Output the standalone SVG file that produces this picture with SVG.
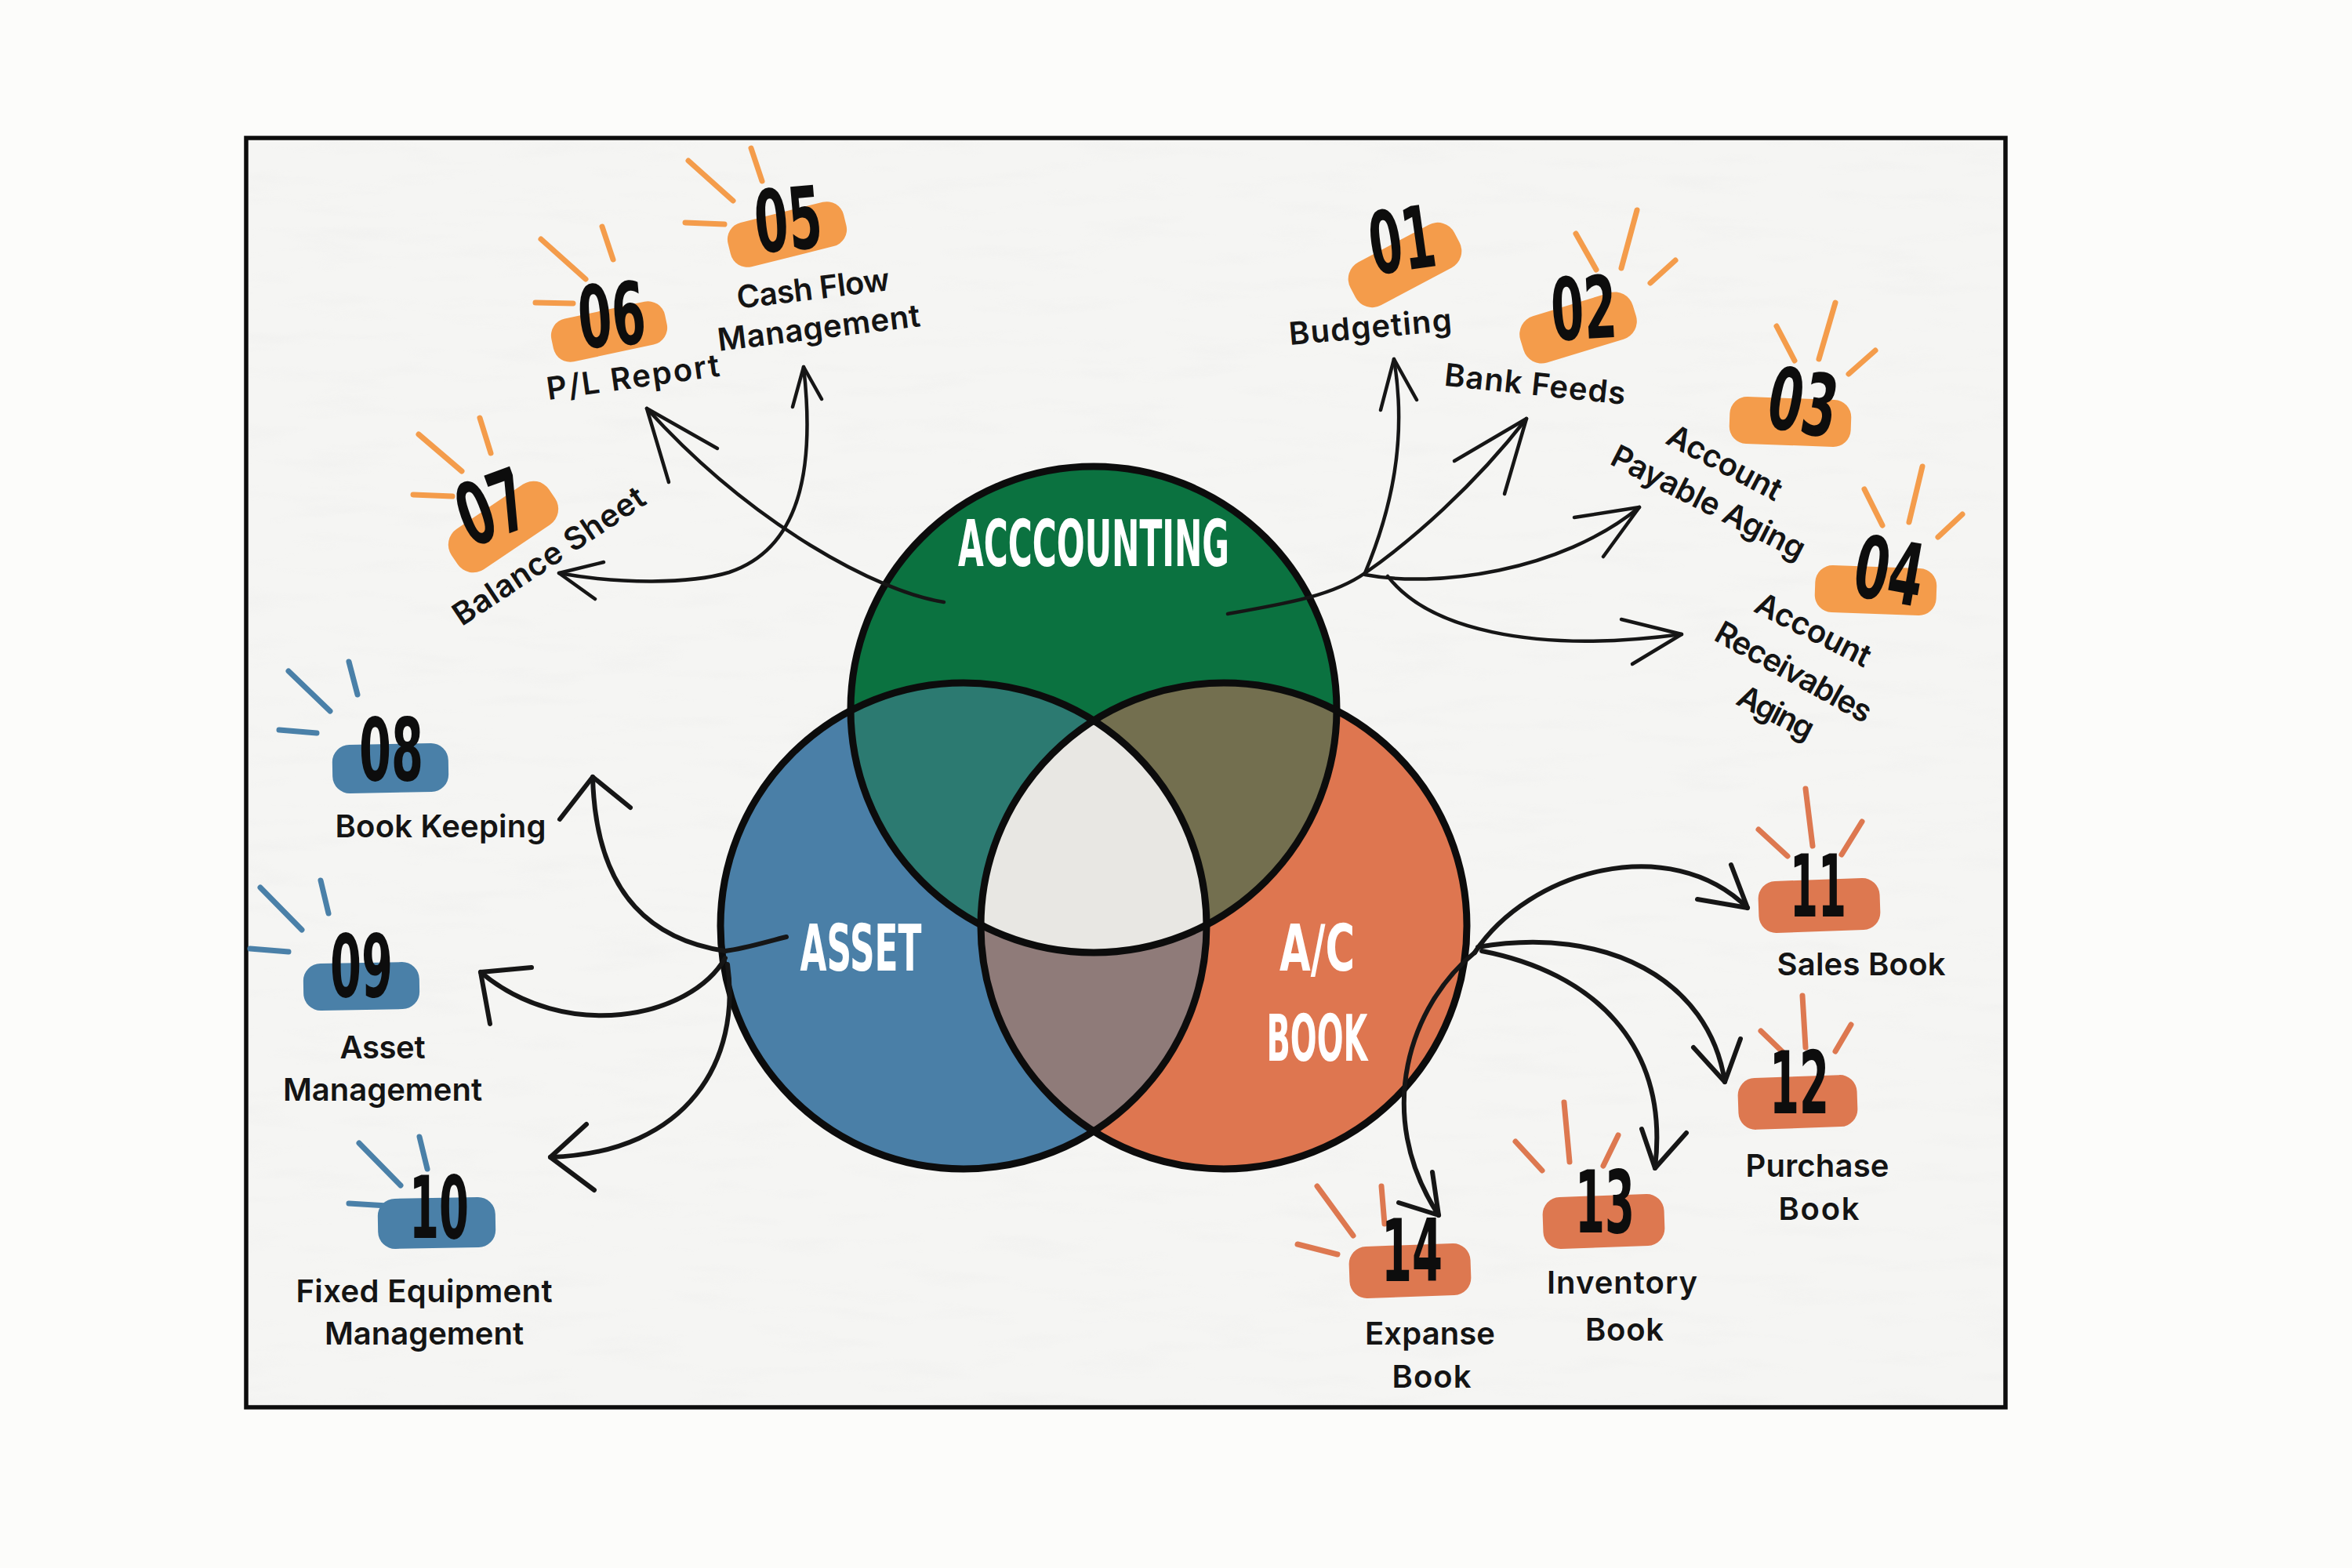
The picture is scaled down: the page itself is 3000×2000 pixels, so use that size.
<svg xmlns="http://www.w3.org/2000/svg" width="3000" height="2000" viewBox="0 0 3000 2000">
<style>
.lbl{font-family:Inter,"Open Sans",Lato,sans-serif;font-weight:600;font-size:40px;fill:#141414;text-anchor:middle}
.num{font-family:"Liberation Sans Narrow","DejaVu Sans Condensed",Roboto,sans-serif;font-weight:700;font-size:110px;fill:#0d0d0d;text-anchor:middle}
.big{font-family:"Liberation Sans Narrow","DejaVu Sans Condensed",Roboto,sans-serif;font-weight:700;font-size:82px;fill:#ffffff;text-anchor:middle}
.ray{stroke-width:7;stroke-linecap:round;fill:none}
.o .ray{stroke:#f49c4b}.o .blob{fill:#f49c4b}
.b .ray{stroke:#4a80a8}.b .blob{fill:#4a80a8}
.r .ray{stroke:#dd7850}.r .blob{fill:#dd7850}
.con{fill:none;stroke:#161616;stroke-width:6;stroke-linecap:round;stroke-linejoin:round}
.thin{stroke-width:4.5}
.ring{fill:none;stroke:#0c0c0c;stroke-width:9}
</style>
<defs>
<clipPath id="cG"><circle cx="1395" cy="905" r="310"/></clipPath>
<clipPath id="cB"><circle cx="1229" cy="1181" r="310"/></clipPath>
<clipPath id="cO"><circle cx="1561" cy="1181" r="310"/></clipPath>
<filter id="paper" x="0" y="0" width="100%" height="100%">
<feTurbulence type="fractalNoise" baseFrequency="0.008 0.045" numOctaves="3" seed="7"/>
<feColorMatrix values="0 0 0 0 0.86  0 0 0 0 0.86  0 0 0 0 0.85  2.6 0 0 0 -1.35"/>
</filter>
</defs>
<rect x="0" y="0" width="3000" height="2000" fill="#fcfcfa"/>
<rect x="314" y="176" width="2244" height="1619" fill="#f5f5f3"/>
<rect x="314" y="176" width="2244" height="1619" filter="url(#paper)" opacity="0.45"/>
<rect id="frame" x="314" y="176" width="2244" height="1619" fill="none" stroke="#0d0d0d" stroke-width="5.5"/>

<g id="venn">
<circle cx="1395" cy="905" r="310" fill="#0b7240"/>
<circle cx="1229" cy="1181" r="310" fill="#4a7fa7"/>
<circle cx="1561" cy="1181" r="310" fill="#de7650"/>
<g clip-path="url(#cG)"><circle cx="1229" cy="1181" r="310" fill="#2c7a71"/></g>
<g clip-path="url(#cG)"><circle cx="1561" cy="1181" r="310" fill="#736f4f"/></g>
<g clip-path="url(#cB)"><circle cx="1561" cy="1181" r="310" fill="#8f7b79"/></g>
<g clip-path="url(#cG)"><g clip-path="url(#cB)"><circle cx="1561" cy="1181" r="310" fill="#e8e7e3"/></g></g>
<circle class="ring" cx="1395" cy="905" r="310"/>
<circle class="ring" cx="1229" cy="1181" r="310"/>
<circle class="ring" cx="1561" cy="1181" r="310"/>
</g>
<g id="node-accounting"><text class="big" x="1395" y="722" textLength="346" lengthAdjust="spacingAndGlyphs">ACCCOUNTING</text></g>
<g id="node-asset"><text class="big" x="1098" y="1238" textLength="155" lengthAdjust="spacingAndGlyphs">ASSET</text></g>
<g id="node-acbook"><text class="big" x="1680" y="1238" textLength="96" lengthAdjust="spacingAndGlyphs">A/C</text><text class="big" x="1680" y="1353" textLength="129" lengthAdjust="spacingAndGlyphs">BOOK</text></g>

<g id="connectors">
<path class="con thin" d="M1204,768 C1120,755 960,670 825,521"/>
<polyline class="con thin" points="915,572 825,521 853,615"/>
<path class="con thin" d="M1025,468 C1040,600 1020,700 930,730 C880,745 790,745 713,731"/>
<polyline class="con thin" points="1011,519 1025,468 1048,509"/>
<polyline class="con thin" points="770,717 713,731 759,764"/>
<path class="con thin" d="M1566,783 C1640,770 1700,760 1741,731"/>
<path class="con thin" d="M1741,731 C1775,650 1795,560 1778,458"/>
<polyline class="con thin" points="1761,523 1778,458 1807,510"/>
<path class="con thin" d="M1741,731 C1800,690 1880,620 1947,534"/>
<polyline class="con thin" points="1855,588 1947,534 1919,630"/>
<path class="con thin" d="M1741,733 C1830,750 1990,730 2091,647"/>
<polyline class="con thin" points="2008,660 2091,647 2045,710"/>
<path class="con thin" d="M1770,735 C1820,800 1950,835 2145,809"/>
<polyline class="con thin" points="2068,790 2145,809 2082,847"/>
<path class="con" d="M1003,1195 C975,1202 950,1210 925,1213"/>
<path class="con" d="M925,1213 C840,1200 760,1150 756,991"/>
<polyline class="con" points="714,1045 756,991 804,1030"/>
<path class="con" d="M925,1222 C880,1300 720,1330 613,1240"/>
<polyline class="con" points="678,1234 613,1240 625,1306"/>
<path class="con" d="M928,1230 C945,1350 880,1470 702,1476"/>
<polyline class="con" points="748,1434 702,1476 758,1518"/>
<path class="con" d="M1881,1215 C1950,1110 2130,1060 2229,1158"/>
<polyline class="con" points="2165,1147 2229,1158 2208,1103"/>
<path class="con" d="M1885,1208 C2050,1180 2180,1250 2200,1380"/>
<polyline class="con" points="2160,1336 2200,1380 2220,1325"/>
<path class="con" d="M1890,1213 C2030,1240 2130,1330 2111,1490"/>
<polyline class="con" points="2094,1440 2111,1490 2151,1445"/>
<path class="con" d="M1881,1215 C1800,1280 1750,1420 1835,1550"/>
<polyline class="con" points="1784,1534 1835,1550 1827,1495"/>
</g>

<g id="node-01" class="o">
<rect class="blob" x="-75" y="-31" width="150" height="62" rx="24" transform="translate(1792,338) rotate(-28)"/>
<text class="num" x="1788" y="345" textLength="84" lengthAdjust="spacingAndGlyphs" transform="rotate(-8 1788 305)">01</text>
<text class="lbl" x="1748" y="431" textLength="208" transform="rotate(-5 1748 420)">Budgeting</text>
</g>
<g id="node-02" class="o">
<rect class="blob" x="-75" y="-31" width="150" height="62" rx="24" transform="translate(2013,418) rotate(-17)"/>
<line class="ray" x1="2010" y1="298" x2="2036" y2="344"/><line class="ray" x1="2088" y1="268" x2="2068" y2="342"/><line class="ray" x1="2137" y1="332" x2="2105" y2="361"/>
<text class="num" x="2020" y="432" textLength="84" lengthAdjust="spacingAndGlyphs" transform="rotate(-3 2020 392)">02</text>
<text class="lbl" x="1958" y="504" textLength="232" transform="rotate(6 1958 490)">Bank Feeds</text>
</g>
<g id="node-03" class="o">
<rect class="blob" x="-77" y="-30" width="155" height="60" rx="22" transform="translate(2283,538) rotate(2)"/>
<line class="ray" x1="2266" y1="416" x2="2289" y2="460"/><line class="ray" x1="2341" y1="386" x2="2320" y2="458"/><line class="ray" x1="2392" y1="447" x2="2358" y2="477"/>
<text class="num" x="2300" y="552" textLength="88" lengthAdjust="spacingAndGlyphs" transform="rotate(10 2300 512)">03</text>
<text class="lbl" x="2200" y="604" textLength="160" transform="rotate(28 2200 590)">Account</text>
<text class="lbl" x="2177" y="654" textLength="272" transform="rotate(27 2177 645)">Payable Aging</text>
</g>
<g id="node-04" class="o">
<rect class="blob" x="-77" y="-30" width="155" height="60" rx="22" transform="translate(2392,753) rotate(2)"/>
<line class="ray" x1="2378" y1="624" x2="2401" y2="670"/><line class="ray" x1="2452" y1="595" x2="2435" y2="666"/><line class="ray" x1="2503" y1="656" x2="2472" y2="685"/>
<text class="num" x="2410" y="767" textLength="88" lengthAdjust="spacingAndGlyphs" transform="rotate(10 2410 727)">04</text>
<text class="lbl" x="2313" y="817" textLength="160" transform="rotate(27 2313 803)">Account</text>
<text class="lbl" x="2288" y="871" textLength="222" transform="rotate(29 2288 857)">Receivables</text>
<text class="lbl" x="2263" y="922" textLength="104" transform="rotate(27 2263 913)">Aging</text>
</g>
<g id="node-05" class="o">
<rect class="blob" x="-76" y="-29" width="152" height="58" rx="22" transform="translate(1004,299) rotate(-14)"/>
<line class="ray" x1="878" y1="205" x2="935" y2="256"/><line class="ray" x1="958" y1="189" x2="972" y2="231"/><line class="ray" x1="874" y1="284" x2="924" y2="286"/>
<text class="num" x="1005" y="319" textLength="86" lengthAdjust="spacingAndGlyphs" transform="rotate(-5 1005 279)">05</text>
<text class="lbl" x="1037" y="382" textLength="196" transform="rotate(-7 1037 368)">Cash Flow</text>
<text class="lbl" x="1045" y="432" textLength="260" transform="rotate(-7 1045 423)">Management</text>
</g>
<g id="node-06" class="o">
<rect class="blob" x="-74" y="-28" width="148" height="56" rx="22" transform="translate(777,423) rotate(-12)"/>
<line class="ray" x1="690" y1="305" x2="747" y2="356"/><line class="ray" x1="768" y1="289" x2="782" y2="331"/><line class="ray" x1="683" y1="386" x2="731" y2="387"/>
<text class="num" x="780" y="441" textLength="86" lengthAdjust="spacingAndGlyphs" transform="rotate(-5 780 401)">06</text>
<text class="lbl" x="808" y="495" textLength="222" transform="rotate(-8 808 486)">P/L Report</text>
</g>
<g id="node-07" class="o">
<rect class="blob" x="-75" y="-31" width="150" height="62" rx="24" transform="translate(642,672) rotate(-34)"/>
<line class="ray" x1="534" y1="554" x2="589" y2="601"/><line class="ray" x1="612" y1="533" x2="626" y2="578"/><line class="ray" x1="527" y1="631" x2="577" y2="633"/>
<text class="num" x="627" y="686" textLength="88" lengthAdjust="spacingAndGlyphs" transform="rotate(-20 627 646)">07</text>
<text class="lbl" x="700" y="723" textLength="285" transform="rotate(-33.6 700 709)">Balance Sheet</text>
</g>

<g id="node-08" class="b">
<rect class="blob" x="-74" y="-31" width="148" height="62" rx="22" transform="translate(498,980) rotate(-1)"/>
<line class="ray" x1="368" y1="856" x2="421" y2="907"/><line class="ray" x1="445" y1="844" x2="456" y2="886"/><line class="ray" x1="356" y1="931" x2="404" y2="935"/>
<text class="num" x="499" y="995" textLength="82" lengthAdjust="spacingAndGlyphs">08</text>
<text class="lbl" x="562" y="1068" textLength="269">Book Keeping</text>
</g>
<g id="node-09" class="b">
<rect class="blob" x="-74" y="-30" width="148" height="60" rx="22" transform="translate(461,1258) rotate(-1)"/>
<line class="ray" x1="332" y1="1132" x2="385" y2="1186"/><line class="ray" x1="409" y1="1123" x2="419" y2="1165"/><line class="ray" x1="319" y1="1210" x2="368" y2="1214"/>
<text class="num" x="461" y="1271" textLength="80" lengthAdjust="spacingAndGlyphs">09</text>
<text class="lbl" x="488" y="1350" textLength="109">Asset</text>
<text class="lbl" x="488" y="1404" textLength="254">Management</text>
</g>
<g id="node-10" class="b">
<rect class="blob" x="-75" y="-32" width="150" height="64" rx="22" transform="translate(557,1560) rotate(-1)"/>
<line class="ray" x1="458" y1="1458" x2="511" y2="1512"/><line class="ray" x1="535" y1="1450" x2="545" y2="1491"/><line class="ray" x1="445" y1="1535" x2="494" y2="1538"/>
<text class="num" x="560" y="1579" textLength="76" lengthAdjust="spacingAndGlyphs">10</text>
<text class="lbl" x="541" y="1661" textLength="327">Fixed Equipment</text>
<text class="lbl" x="541" y="1715" textLength="254">Management</text>
</g>

<g id="node-11" class="r">
<rect class="blob" x="-77" y="-33" width="155" height="66" rx="22" transform="translate(2320,1155) rotate(-2)"/>
<line class="ray" x1="2243" y1="1058" x2="2280" y2="1092"/><line class="ray" x1="2303" y1="1006" x2="2312" y2="1079"/><line class="ray" x1="2375" y1="1048" x2="2349" y2="1090"/>
<text class="num" x="2319" y="1169" textLength="72" lengthAdjust="spacingAndGlyphs">11</text>
<text class="lbl" x="2374" y="1244" textLength="215">Sales Book</text>
</g>
<g id="node-12" class="r">
<rect class="blob" x="-76" y="-33" width="152" height="66" rx="22" transform="translate(2293,1406) rotate(-2)"/>
<line class="ray" x1="2246" y1="1315" x2="2275" y2="1343"/><line class="ray" x1="2299" y1="1270" x2="2303" y2="1336"/><line class="ray" x1="2361" y1="1307" x2="2341" y2="1341"/>
<text class="num" x="2295" y="1420" textLength="76" lengthAdjust="spacingAndGlyphs">12</text>
<text class="lbl" x="2318" y="1501" textLength="183">Purchase</text>
<text class="lbl" x="2320" y="1556" textLength="103">Book</text>
</g>
<g id="node-13" class="r">
<rect class="blob" x="-77" y="-33" width="155" height="66" rx="22" transform="translate(2045,1558) rotate(-2)"/>
<line class="ray" x1="1933" y1="1456" x2="1967" y2="1493"/><line class="ray" x1="1995" y1="1406" x2="2002" y2="1482"/><line class="ray" x1="2064" y1="1448" x2="2045" y2="1487"/>
<text class="num" x="2047" y="1572" textLength="76" lengthAdjust="spacingAndGlyphs">13</text>
<text class="lbl" x="2069" y="1650" textLength="192">Inventory</text>
<text class="lbl" x="2072" y="1710" textLength="100">Book</text>
</g>
<g id="node-14" class="r">
<rect class="blob" x="-77" y="-33" width="155" height="66" rx="22" transform="translate(1798,1621) rotate(-2)"/>
<line class="ray" x1="1680" y1="1513" x2="1726" y2="1576"/><line class="ray" x1="1762" y1="1513" x2="1766" y2="1561"/><line class="ray" x1="1655" y1="1587" x2="1706" y2="1600"/>
<text class="num" x="1801" y="1634" textLength="78" lengthAdjust="spacingAndGlyphs">14</text>
<text class="lbl" x="1824" y="1715" textLength="166">Expanse</text>
<text class="lbl" x="1826" y="1770" textLength="101">Book</text>
</g>
</svg>
